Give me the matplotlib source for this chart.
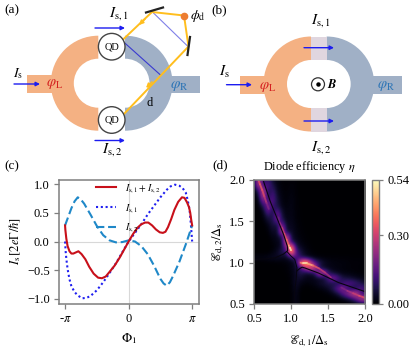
import numpy as np
import matplotlib
matplotlib.use('Agg')
import matplotlib.pyplot as plt
from matplotlib.patches import Wedge, Rectangle, Circle
from matplotlib.collections import LineCollection

plt.rcParams['font.family'] = ['Liberation Serif', 'DejaVu Serif']
plt.rcParams['mathtext.fontset'] = 'stix'

# panel (c): phase in units of pi
phi_sum = [-1, -.995, -.98, -.96, -.93, -.9, -.87, -.83, -.79, -.74, -.68, -.62, -.55, -.48, -.42, -.36, -.3, -.22, -.14, -.07, 0,
           .07, .14, .2, .26, .31, .37, .43, .49, .54, .58, .62, .67, .72, .78, .84, .88, .92, .95, .97, .985, 1]
i_sum = [.28, .2, .05, -.08, -.17, -.21, -.21, -.19, -.17, -.22, -.31, -.44, -.56, -.63, -.64, -.61, -.53, -.42, -.28, -.14, 0,
         .13, .24, .3, .33, .33, .28, .21, .16, .15, .17, .25, .39, .55, .69, .77, .76, .68, .6, .5, .38, .28]
phi_1 = [-1, -.99, -.98, -.96, -.93, -.9, -.85, -.8, -.73, -.66, -.6, -.5, -.4, -.3, -.2, -.1, 0,
         .1, .2, .3, .4, .5, .6, .66, .73, .8, .85, .9, .93, .96, .98, .99, 1]
i_1 = [0, -.18, -.3, -.48, -.66, -.78, -.88, -.94, -.99, -.98, -.95, -.85, -.71, -.55, -.38, -.19, 0,
       .15, .3, .47, .62, .77, .9, .96, .99, .97, .93, .85, .72, .55, .3, .15, 0]
phi_2 = [-1, -.95, -.9, -.85, -.8, -.75, -.7, -.6, -.5, -.4, -.3, -.2, -.1, 0, .1, .2, .3, .4, .5, .55, .6, .65, .7, .8, .9, 1]
i_2 = [.28, .43, .58, .7, .77, .73, .66, .47, .27, .11, .02, -.015, -.01, .02, 0, -.08, -.22, -.42, -.65, -.73, -.77, -.71, -.6, -.35, -.05, .28]

# panel (d): efficiency read on a 25x25 grid, top row e2=2.0, left column e1=0.5
eta = np.array([
    [.014, .31, .07, .11, .042, .014, .007, .004, .008, .006, 0, 0, 0, 0, 0, 0, 0, 0, 0, 0, 0, 0, 0, 0, 0],
    [.007, .31, .10, .14, .07, .021, .008, .004, .011, .006, 0, 0, 0, 0, 0, 0, 0, 0, 0, 0, 0, 0, 0, 0, 0],
    [0, .11, .31, .056, .11, .028, .011, .006, .014, .006, 0, 0, 0, 0, 0, 0, 0, 0, 0, 0, 0, 0, 0, 0, 0],
    [0, .042, .31, .042, .14, .042, .014, .007, .017, .007, 0, 0, 0, 0, 0, 0, 0, 0, 0, 0, 0, 0, 0, 0, 0],
    [0, .014, .22, .11, .14, .056, .017, .008, .02, .007, .003, 0, 0, 0, 0, 0, 0, 0, 0, 0, 0, 0, 0, 0, 0],
    [0, .007, .084, .20, .10, .07, .021, .011, .022, .007, .003, 0, 0, 0, 0, 0, 0, 0, 0, 0, 0, 0, 0, 0, 0],
    [0, 0, .028, .17, .056, .14, .042, .014, .022, .008, .003, 0, 0, 0, 0, 0, 0, 0, 0, 0, 0, 0, 0, 0, 0],
    [0, 0, .014, .084, .056, .22, .056, .017, .025, .008, .004, 0, 0, 0, 0, 0, 0, 0, 0, 0, 0, 0, 0, 0, 0],
    [0, 0, .004, .042, .07, .14, .11, .021, .028, .011, .004, .001, 0, 0, 0, 0, 0, 0, 0, 0, 0, 0, 0, 0, 0],
    [0, 0, 0, .014, .056, .042, .25, .028, .035, .014, .006, .001, 0, 0, 0, 0, 0, 0, 0, 0, 0, 0, 0, 0, 0],
    [0, 0, 0, .007, .042, .028, .31, .042, .042, .017, .007, .003, 0, 0, 0, 0, 0, 0, 0, 0, 0, 0, 0, 0, 0],
    [0, 0, 0, 0, .021, .028, .07, .34, .049, .022, .011, .004, .001, 0, 0, 0, 0, 0, 0, 0, 0, 0, 0, 0, 0],
    [0, 0, 0, 0, .011, .021, .042, .36, .084, .035, .017, .007, .003, 0, 0, 0, 0, 0, 0, 0, 0, 0, 0, 0, 0],
    [0, 0, 0, 0, .004, .021, .042, .22, .48, .07, .035, .014, .006, .001, 0, 0, 0, 0, 0, 0, 0, 0, 0, 0, 0],
    [0, 0, 0, 0, .014, .035, .084, .084, .50, .14, .063, .028, .011, .004, .001, 0, 0, 0, 0, 0, 0, 0, 0, 0, 0],
    [.021, .021, .021, .028, .035, .035, .028, .035, .07, .14, .084, .042, .025, .017, .011, .008, .007, .007, .007, .006, .006, .004, .004, .004, .004],
    [0, 0, 0, .001, .003, .004, .007, .011, .021, .042, .39, .54, .34, .14, .084, .042, .025, .017, .014, .014, .011, .008, .008, .007, .006],
    [0, 0, 0, 0, .001, .001, .003, .006, .021, .042, .10, .25, .36, .34, .056, .028, .021, .017, .014, .011, .008, .008, .006, .004, .004],
    [0, 0, 0, 0, 0, 0, .001, .004, .014, .035, .084, .042, .042, .07, .31, .25, .10, .042, .028, .017, .014, .011, .008, .007, .006],
    [0, 0, 0, 0, 0, 0, 0, .001, .011, .042, .042, .028, .021, .028, .028, .042, .14, .22, .14, .07, .056, .042, .028, .021, .014],
    [0, 0, 0, 0, 0, 0, 0, 0, .008, .042, .021, .011, .014, .021, .042, .056, .07, .056, .056, .10, .14, .14, .11, .07, .042],
    [0, 0, 0, 0, 0, 0, 0, 0, .006, .035, .006, 0, 0, .006, .011, .021, .042, .084, .17, .20, .10, .042, .056, .14, .11],
    [0, 0, 0, 0, 0, 0, 0, 0, .004, .028, 0, 0, 0, 0, 0, .004, .008, .028, .056, .14, .22, .31, .31, .10, .07],
    [0, 0, 0, 0, 0, 0, 0, 0, .003, .028, 0, 0, 0, 0, 0, 0, 0, 0, .006, .017, .042, .084, .17, .31, .31],
    [0, 0, 0, 0, 0, 0, 0, 0, .003, .028, 0, 0, 0, 0, 0, 0, 0, 0, 0, 0, 0, .003, .007, .014, .017],
])
# thin zero-efficiency lines that a coarse grid cannot hold
node_up_x = [.63, .72, .81, .90, .95, .955, .90, .79, .65, .5]
node_up_y = [1.98, 1.74, 1.54, 1.34, 1.2, 1.145, 1.105, 1.06, 1.045, 1.04]
node_mid_x = [.95, 1.0, 1.05, 1.08, 1.07, 1.05, 1.04]
node_mid_y = [1.13, 1.08, 1.04, .94, .8, .65, .51]
node_low_x = [1.08, 1.12, 1.15, 1.19, 1.37, 1.64, 2.0]
node_low_y = [.90, .93, .945, .935, .875, .76, .65]
# bright crests, (e1, e2, eta)
crest_top_x = [.56, .58, .61, .64, .67, .70]
crest_top_y = [2.0, 1.95, 1.88, 1.8, 1.72, 1.65]
crest_top_eta = [.34, .36, .33, .28, .20, .14]
crest_up_x = [.80, .83, .85, .88, .91, .94, .97, .985, 1.0]
crest_up_y = [1.6, 1.55, 1.48, 1.42, 1.35, 1.28, 1.21, 1.18, 1.15]
crest_up_eta = [.12, .18, .24, .30, .34, .38, .46, .54, .54]
crest_low_x = [1.13, 1.16, 1.22, 1.3, 1.38, 1.46, 1.54]
crest_low_y = [1.0, .99, .99, .965, .93, .88, .82]
crest_low_eta = [.42, .54, .46, .36, .30, .26, .20]
crest_end_x = [1.68, 1.76, 1.84, 1.92, 2.0]
crest_end_y = [.70, .66, .63, .60, .575]
crest_end_eta = [.20, .26, .30, .34, .36]

# schematic colours
orange = '#F4B183'
slate = '#A0B0C6'
mauve = '#E0D6DF'
gold = '#FFBE1E'
arrow_blue = '#1C1CF0'
gray = '#7f7f7f'

fig = plt.figure(figsize=(4.16, 3.5), dpi=100)
sk = fig.add_axes([0, 0, 1, 1])
sk.set_xlim(0, 416)
sk.set_ylim(350, 0)
sk.axis('off')


def arrow(x0, y0, x1, y1, color=arrow_blue, lw=1.0):
    sk.annotate('', xy=(x1, y1), xytext=(x0, y0),
                arrowprops=dict(arrowstyle='-|>', color=color, lw=lw, mutation_scale=6,
                                shrinkA=0, shrinkB=0))


def label(x, y, s, size=8.5, color='k'):
    sk.text(x, y, s, fontsize=size, color=color, ha='center', va='center')


# (a)
sk.add_patch(Rectangle((27, 75), 28, 17.5, fc=orange, ec='none'))
sk.add_patch(Rectangle((165, 76), 35, 17, fc=slate, ec='none'))
sk.add_patch(Wedge((98.3, 83.2), 47.5, 90, 270, width=23, fc=orange, ec='none'))
sk.add_patch(Wedge((125, 83.2), 47.5, -90, 90, width=23, fc=slate, ec='none'))
sk.plot([122, 160.5], [40.5, 75], color='#3a3ad0', lw=0.8)
sk.plot([153, 188], [12.5, 46.5], color='#8080e8', lw=0.8)
sk.plot([122, 152, 184, 188.5, 123], [40.5, 12, 15.5, 46.5, 115], color=gold, lw=1.4, solid_joinstyle='miter')
arrow(145, 19, 139, 25, gold, 1.2)
arrow(152, 82, 146, 88, gold, 1.2)
sk.plot([146, 163], [12.5, 7.5], color='#222222', lw=1.6)
sk.plot([187.5, 190], [55, 37], color='#222222', lw=1.6)
sk.plot([184], [15.5], 'o', color='#ED7D31', ms=4.5)
for yc in (46.7, 120):
    sk.add_patch(Circle((111.7, yc), 13.3, fc='white', ec='#444444', lw=1.0, zorder=3))
    label(111.7, yc, 'QD', 7.5)
arrow(95, 28, 125, 28)
arrow(95, 140.5, 125, 140.5)
arrow(14, 84, 40, 84)
label(18, 74, r'$I_{\rm s}$', 10)
label(119, 14, r'$I_{\rm s,1}$', 11)
label(112, 150, r'$I_{\rm s,2}$', 11)
label(55, 84, r'$\varphi_{\rm L}$', 10.5, '#D42020')
label(179, 86, r'$\varphi_{\rm R}$', 11, '#2E75B6')
label(150, 103, 'd', 9)
label(198, 16, r'$\phi_{\rm d}$', 10)
label(12, 10, '(a)', 9.5)
label(12, 166, '(c)', 9.5)

# (b)
xl, xr = 205 + 318 / 3, 205 + 365 / 3
sk.add_patch(Rectangle((205 + 105 / 3, 75.5), 30, 18, fc=orange, ec='none'))
sk.add_patch(Rectangle((205 + 495 / 3, 76), 32, 18, fc=slate, ec='none'))
sk.add_patch(Wedge((xl, 84), 47.5, 90, 270, width=23.5, fc=orange, ec='none'))
sk.add_patch(Wedge((xr, 84), 47.5, -90, 90, width=23.5, fc=slate, ec='none'))
sk.add_patch(Rectangle((xl, 36.5), xr - xl, 23.5, fc=mauve, ec='none'))
sk.add_patch(Rectangle((xl, 108), xr - xl, 23.5, fc=mauve, ec='none'))
arrow(304, 47.7, 334, 47.7)
arrow(304, 121, 334, 121)
arrow(226.5, 84.7, 252, 84.7)
sk.add_patch(Circle((318, 84.3), 6.5, fc='white', ec='#333333', lw=0.9))
sk.plot([318], [84.3], 'o', color='k', ms=2.2)
label(332, 84.5, r'$\boldsymbol{B}$', 9)
label(224, 72, r'$I_{\rm s}$', 11)
label(321, 21, r'$I_{\rm s,1}$', 11)
label(321, 148, r'$I_{\rm s,2}$', 11)
label(268, 87, r'$\varphi_{\rm L}$', 10.5, '#D42020')
label(386, 86, r'$\varphi_{\rm R}$', 10.5, '#2E75B6')
label(219, 10, '(b)', 9.5)
label(220, 165, '(d)', 9.5)
label(309, 167, r'Diode efficiency $\eta$', 8.8)


def pixel_axes(x0, y0, x1, y1):
    return fig.add_axes([x0 / 416, 1 - y1 / 350, (x1 - x0) / 416, (y1 - y0) / 350])


# (c)
ax = pixel_axes(58.7, 179.5, 198.5, 303.5)
ax.axhline(0, color='#d8d8d8', lw=0.8)
ax.axvline(0, color='#d8d8d8', lw=0.8)
ax.plot(np.array(phi_sum) * np.pi, i_sum, color='#C8101A', lw=1.5, zorder=3, label=r'$I_{\rm s,1}+I_{\rm s,2}$')
ax.plot(np.array(phi_1) * np.pi, i_1, color='#2020F0', lw=1.5, ls=(0, (1, 1.3)), zorder=2, label=r'$I_{\rm s,1}$')
ax.plot(np.array(phi_2) * np.pi, i_2, color='#1F88C8', lw=1.5, ls=(0, (4, 1.8)), zorder=2, label=r'$I_{\rm s,2}$')
ax.set_xlim(-1.1 * np.pi, 1.1 * np.pi)
ax.set_ylim(-1.08, 1.08)
ax.set_xticks([-np.pi, 0, np.pi])
ax.set_xticklabels([r'-$\pi$', '0', r'$\pi$'])
ax.set_yticks([-1, -.5, 0, .5, 1])
ax.set_yticklabels(['\u22121.0', '\u22120.5', '0.0', '0.5', '1.0'])
ax.tick_params(labelsize=9, length=3.5, width=0.9, color=gray, pad=3)
for s in ax.spines.values():
    s.set_color(gray)
    s.set_linewidth(1.1)
ax.set_xlabel(r'$\Phi_1$', fontsize=9.5, labelpad=5)
ax.set_ylabel(r'$I_{\rm s}\,[2e\Gamma/\hbar]$', fontsize=9, labelpad=3)
ax.legend(loc='upper left', bbox_to_anchor=(0.205, 1.05), frameon=False, fontsize=7, handlelength=2.0,
          labelspacing=0.7, handletextpad=1.0)

# (d)
ax2 = pixel_axes(254, 180, 365, 304)
im = ax2.imshow(eta, cmap='magma', vmin=0, vmax=.54, interpolation='bicubic', aspect='auto',
                extent=(.46875, 2.03125, .46875, 2.03125))
for cx, cy, cv in [(crest_top_x, crest_top_y, crest_top_eta), (crest_up_x, crest_up_y, crest_up_eta),
                   (crest_low_x, crest_low_y, crest_low_eta), (crest_end_x, crest_end_y, crest_end_eta)]:
    pts = np.column_stack([cx, cy])
    lc = LineCollection(np.stack([pts[:-1], pts[1:]], axis=1), cmap='magma', linewidths=1.3, capstyle='round', alpha=0.75)
    lc.set_array(np.array(cv[:-1]))
    lc.set_clim(0, .54)
    ax2.add_collection(lc)
ax2.plot(node_up_x, node_up_y, color='#07050f', lw=0.8)
ax2.plot(node_mid_x, node_mid_y, color='#07050f', lw=0.7)
ax2.plot(node_low_x, node_low_y, color='#07050f', lw=0.8)
ax2.set_xlim(.5, 2)
ax2.set_ylim(.5, 2)
ax2.set_xticks([.5, 1, 1.5, 2])
ax2.set_yticks([.5, 1, 1.5, 2])
ax2.tick_params(labelsize=9, length=3.5, width=0.9, color=gray, pad=3)
for s in ax2.spines.values():
    s.set_color(gray)
    s.set_linewidth(1.1)
ax2.set_xlabel(r'$\mathscr{E}_{\rm d,1}/\Delta_{\rm s}$', fontsize=9, labelpad=5)
ax2.set_ylabel(r'$\mathscr{E}_{\rm d,2}/\Delta_{\rm s}$', fontsize=9, labelpad=2)

cax = pixel_axes(372, 180, 379, 304)
cb = fig.colorbar(im, cax=cax, ticks=[0, .3, .54])
cb.ax.set_yticklabels(['0.00', '0.30', '0.54'])
cb.ax.tick_params(labelsize=9, length=3, width=0.9, color=gray, pad=3)
cb.outline.set_edgecolor(gray)
cb.outline.set_linewidth(1.0)

plt.savefig('out.png', dpi=100)
